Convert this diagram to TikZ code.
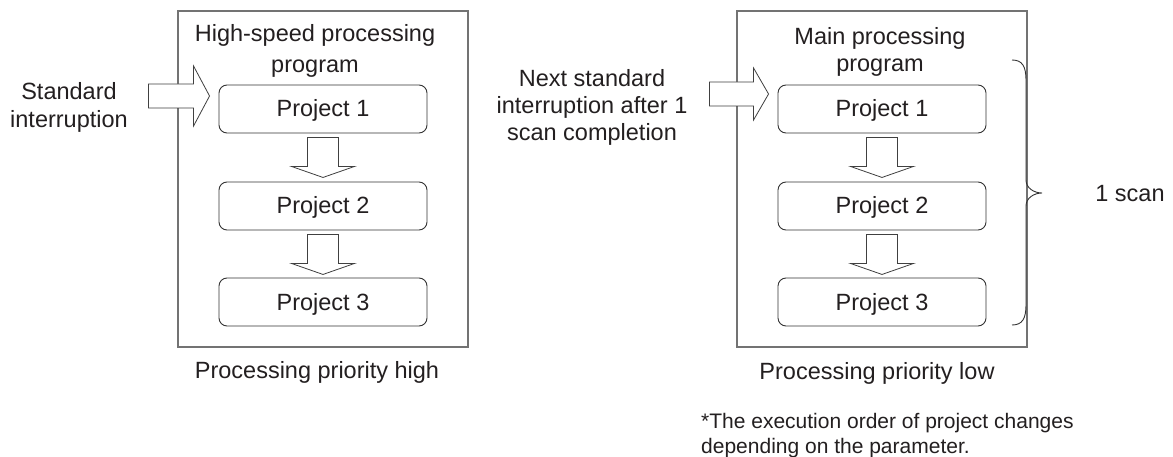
\documentclass[tikz,border=0pt]{standalone}
\usepackage{fontspec}
\setmainfont{Liberation Sans}
\usetikzlibrary{calc}
\definecolor{ink}{HTML}{231F20}
\newcommand\dnarrow[1]{\draw[blk] ($(#1.south)+(-15.5,4)$) -- ++(0,29) -- ++(-16,0) -- ++(31.5,11) -- ++(31.5,-11) -- ++(-16,0) -- ++(0,-29) -- cycle;}
\begin{document}
\begin{tikzpicture}[x=1pt,y=-1pt,
  txt/.style={text=ink, font=\fontsize{23.5}{28}\selectfont, inner sep=0pt},
  outer/.style={draw=black!55, line width=1.3pt, minimum width=290pt, minimum height=336pt, inner sep=0pt},
  proj/.style={draw=black!80, line width=0.9pt, rounded corners=8pt, minimum width=208pt, minimum height=48pt, text height=17pt, text depth=1pt, inner sep=0pt, text=ink, font=\fontsize{23.5}{28}\selectfont},
  blk/.style={draw=black!75, line width=0.8pt, fill=white, line join=miter},
]
\fill[white] (0,0) rectangle (1173,457);
\useasboundingbox (0,0) rectangle (1173,457);

\node[outer] (lbox) at (323,179) {};
\node[outer] (rbox) at (882,179) {};

\node[txt, align=center, anchor=base, font=\fontsize{23.5}{31}\selectfont] (ltitle) at (315,73) {High-speed processing\\program};
\node[txt, align=center, anchor=base, font=\fontsize{23.5}{27}\selectfont] (rtitle) at (880,72) {Main processing\\program};

\node[proj] (l1) at (323,109) {Project 1};
\node[proj] (l2) at (323,206) {Project 2};
\node[proj] (l3) at (323,302) {Project 3};
\node[proj] (r1) at (882,109) {Project 1};
\node[proj] (r2) at (882,206) {Project 2};
\node[proj] (r3) at (882,302) {Project 3};

\dnarrow{l1}
\dnarrow{l2}
\dnarrow{r1}
\dnarrow{r2}

\node[txt, align=center, anchor=base, font=\fontsize{23.5}{28}\selectfont] (std) at (69,128) {Standard\\interruption};
\node[txt, align=center, anchor=base, font=\fontsize{23.5}{27}\selectfont] (next) at (592,141) {Next standard\\interruption after 1\\scan completion};

\draw[blk] ($(l1.west)+(-9,-13)$) -- ++(-16,-30) -- ++(0,18) -- ++(-45,0) -- ++(0,24) -- ++(45,0) -- ++(0,18) -- cycle;
\draw[blk] ($(r1.west)+(-9,-15)$) -- ++(-15,-26) -- ++(0,14) -- ++(-44,0) -- ++(0,24) -- ++(44,0) -- ++(0,14) -- cycle;

\draw[draw=black!80, line width=0.9pt] (1012,60) .. controls (1022,60) and (1026,66) .. (1026,80) -- (1026,180) .. controls (1026,188) and (1034,193) .. (1042,193) .. controls (1034,193) and (1026,198) .. (1026,206) -- (1026,305) .. controls (1026,319) and (1022,325) .. (1012,325);
\node[txt, anchor=base] (scan) at (1130,202) {1 scan};

\node[txt, anchor=base] (lprio) at (317,378) {Processing priority high};
\node[txt, anchor=base] (rprio) at (877,379) {Processing priority low};

\node[txt, align=left, anchor=base west, font=\fontsize{21}{25}\selectfont] (note) at (701,453) {*The execution order of project changes\\depending on the parameter.};
\end{tikzpicture}
\end{document}
